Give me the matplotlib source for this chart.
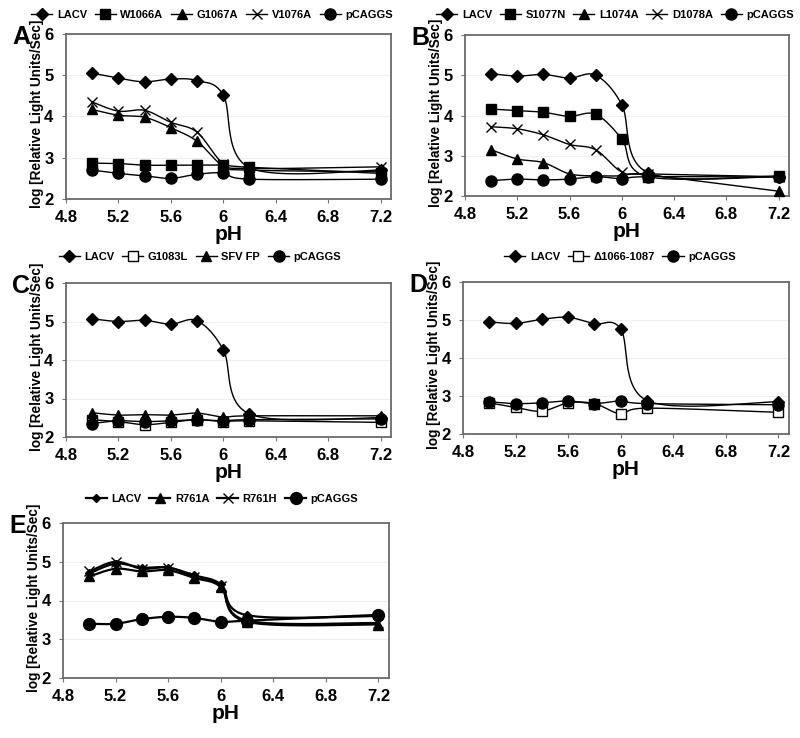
import numpy as np
import matplotlib
matplotlib.use("Agg")
import matplotlib.pyplot as plt
from matplotlib.lines import Line2D

plt.rcParams['font.family'] = ['Liberation Sans', 'DejaVu Sans']
plt.rcParams['font.weight'] = 'bold'

ph = [5.0, 5.2, 5.4, 5.6, 5.8, 6.0, 6.2, 7.2]

# panel A
a_lacv = [5.05, 4.93, 4.84, 4.91, 4.87, 4.52, 2.76, 2.70]
a_w1066a = [2.87, 2.86, 2.82, 2.82, 2.82, 2.82, 2.77, 2.62]
a_g1067a = [4.17, 4.03, 3.98, 3.73, 3.40, 2.80, 2.70, 2.66]
a_v1076a = [4.35, 4.13, 4.15, 3.86, 3.62, 2.86, 2.74, 2.78]
a_pcaggs = [2.70, 2.62, 2.56, 2.50, 2.60, 2.63, 2.48, 2.48]

# panel B
b_lacv = [5.04, 4.98, 5.02, 4.93, 5.00, 4.27, 2.58, 2.48]
b_s1077n = [4.16, 4.12, 4.08, 3.98, 4.03, 3.42, 2.48, 2.50]
b_l1074a = [3.15, 2.92, 2.83, 2.55, 2.50, 2.50, 2.52, 2.12]
b_d1078a = [3.72, 3.67, 3.52, 3.28, 3.15, 2.60, 2.55, 2.48]
b_pcaggs = [2.38, 2.42, 2.40, 2.42, 2.48, 2.43, 2.48, 2.47]

# panel C
c_lacv = [5.07, 5.00, 5.03, 4.93, 5.02, 4.27, 2.60, 2.50]
c_g1083l = [2.45, 2.40, 2.32, 2.38, 2.45, 2.40, 2.42, 2.38]
c_sfvfp = [2.63, 2.57, 2.58, 2.57, 2.62, 2.52, 2.55, 2.55]
c_pcaggs = [2.35, 2.42, 2.40, 2.42, 2.45, 2.42, 2.45, 2.47]

# panel D
d_lacv = [4.95, 4.91, 5.02, 5.07, 4.90, 4.76, 2.88, 2.85]
d_del = [2.82, 2.70, 2.60, 2.82, 2.80, 2.53, 2.68, 2.57]
d_pcaggs = [2.85, 2.80, 2.82, 2.87, 2.80, 2.87, 2.80, 2.77]

# panel E
e_lacv = [4.70, 4.95, 4.85, 4.85, 4.65, 4.42, 3.62, 3.60]
e_r761a = [4.62, 4.82, 4.75, 4.78, 4.58, 4.35, 3.45, 3.38]
e_r761h = [4.75, 5.00, 4.82, 4.85, 4.60, 4.38, 3.48, 3.42]
e_pcaggs = [3.40, 3.40, 3.52, 3.58, 3.55, 3.45, 3.48, 3.63]

W, H = 800, 738


def smooth(x, y, sx, sy, n=30):
    # excel-like smoothed line (catmull-rom bezier in screen units)
    p = np.column_stack([(np.array(x) - 4.8) * sx, (np.array(y) - 2) * sy])
    ext = np.vstack([p[0], p, p[-1]])
    out = []
    t = np.linspace(0, 1, n)[:, None]
    for i in range(len(p) - 1):
        p0, p1, p2, p3 = ext[i], ext[i + 1], ext[i + 2], ext[i + 3]
        c1 = p1 + (p2 - p0) / 6
        c2 = p2 - (p3 - p1) / 6
        seg = (1 - t) ** 3 * p1 + 3 * (1 - t) ** 2 * t * c1 + 3 * (1 - t) * t ** 2 * c2 + t ** 3 * p2
        out.append(seg)
    out = np.vstack(out)
    return out[:, 0] / sx + 4.8, out[:, 1] / sy + 2


def panel(box, series, letter, leg_x, leg_y, lw=1.0):
    l, r, t, b = box
    ax = fig.add_axes([l / W, 1 - b / H, (r - l) / W, (b - t) / H])
    sx = (r - l) / 2.48
    sy = (b - t) / 4.0
    handles = []
    for name, vals, mk, ms, fill in series:
        xs, ys = smooth(ph, vals, sx, sy)
        ax.plot(xs, ys, color='black', lw=lw, zorder=2)
        mfc = 'black' if fill else 'white'
        ax.plot(ph, vals, ls='none', marker=mk, ms=ms, mfc=mfc, mec='black',
                mew=1.0, zorder=3, clip_on=False)
        handles.append(Line2D([], [], color='black', lw=lw, marker=mk, ms=ms,
                              mfc=mfc, mec='black', label=name))
    ax.set_xlim(4.8, 7.28)
    ax.set_ylim(2, 6)
    ax.set_xticks([4.8, 5.2, 5.6, 6.0, 6.4, 6.8, 7.2])
    ax.set_xticklabels(['4.8', '5.2', '5.6', '6', '6.4', '6.8', '7.2'])
    ax.set_yticks([2, 3, 4, 5, 6])
    ax.tick_params(labelsize=12, length=3, color='#777777')
    ax.tick_params(axis='x', pad=5)
    ax.tick_params(axis='y', pad=6)
    for lab in ax.get_xticklabels() + ax.get_yticklabels():
        lab.set_fontweight('bold')
    for s in ax.spines.values():
        s.set_color('#6a6a6a')
        s.set_linewidth(1.3)
    ax.grid(axis='y', color='#efefef', lw=0.8)
    ax.set_axisbelow(True)
    ax.set_xlabel('pH', fontsize=15, fontweight='bold', labelpad=0)
    fig.text((l - 29) / W, 1 - ((t + b) / 2 - 3) / H, 'log [Relative Light Units/Sec]',
             rotation=90, ha='center', va='center', fontsize=9.8, fontweight='bold')
    fig.text((l - 54) / W, 1 - (t + 3) / H, letter, ha='left', va='center',
             fontsize=18, fontweight='bold')
    ax.legend(handles=handles, loc='center', bbox_to_anchor=(leg_x / W, 1 - leg_y / H),
              bbox_transform=fig.transFigure,
              ncol=len(handles), frameon=False, handlelength=1.9,
              handletextpad=0.4, columnspacing=0.7, borderaxespad=0, borderpad=0,
              prop={'weight': 'bold', 'size': 8})
    return ax


fig = plt.figure(figsize=(W / 100, H / 100), dpi=100)

panel((66, 391, 34, 199), [
    ('LACV', a_lacv, 'D', 6.5, True),
    ('W1066A', a_w1066a, 's', 7, True),
    ('G1067A', a_g1067a, '^', 7.5, True),
    ('V1076A', a_v1076a, 'x', 7, True),
    ('pCAGGS', a_pcaggs, 'o', 8, True),
], 'A', 212, 15)

panel((465, 789, 35, 196), [
    ('LACV', b_lacv, 'D', 6.5, True),
    ('S1077N', b_s1077n, 's', 7, True),
    ('L1074A', b_l1074a, '^', 7.5, True),
    ('D1078A', b_d1078a, 'x', 7, True),
    ('pCAGGS', b_pcaggs, 'o', 8, True),
], 'B', 615, 15)

panel((66, 391, 283, 437), [
    ('LACV', c_lacv, 'D', 6.5, True),
    ('G1083L', c_g1083l, 's', 7, False),
    ('SFV FP', c_sfvfp, '^', 7.5, True),
    ('pCAGGS', c_pcaggs, 'o', 8, True),
], 'C', 200, 257)

panel((463, 789, 282, 434), [
    ('LACV', d_lacv, 'D', 6.5, True),
    ('\u03941066-1087', d_del, 's', 7, False),
    ('pCAGGS', d_pcaggs, 'o', 8, True),
], 'D', 620, 257)

panel((63, 389, 523, 678), [
    ('LACV', e_lacv, 'D', 4.5, True),
    ('R761A', e_r761a, '^', 7.5, True),
    ('R761H', e_r761h, 'x', 7, True),
    ('pCAGGS', e_pcaggs, 'o', 8.5, True),
], 'E', 222, 499, lw=1.6)

fig.savefig('out.png', dpi=100)
